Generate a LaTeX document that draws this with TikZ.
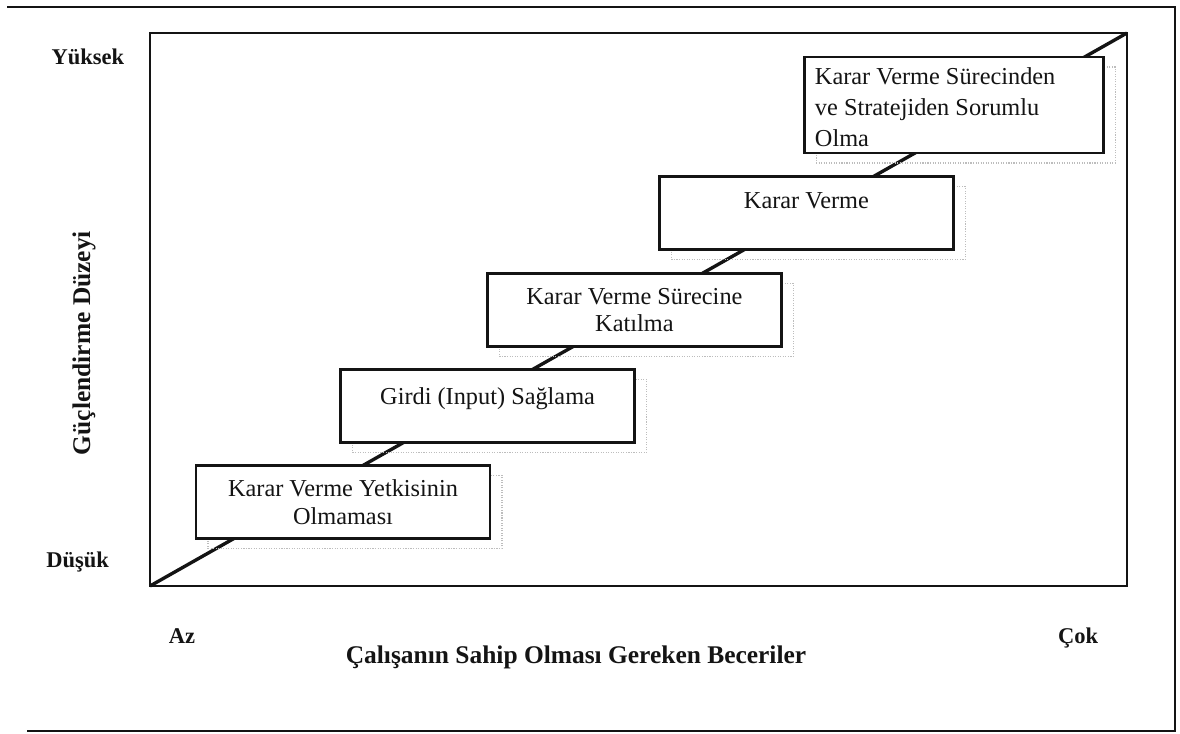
\documentclass[tikz,border=0pt]{standalone}
\usepackage{fontspec}
\setmainfont{Liberation Serif}
\usepackage{tikz}
\usetikzlibrary{shadows}
\definecolor{Ink}{HTML}{141414}
\definecolor{Ghost}{HTML}{BDBDBD}

\begin{document}
\begin{tikzpicture}[x=1cm,y=1cm,
    every node/.style={font=\fontsize{17.3}{19.5}\selectfont, text=Ink, align=center},
    stepbox/.style={draw=Ink, line width=2pt, fill=white, inner sep=0pt,
      minimum width=7.35cm, minimum height=1.825cm,
      drop shadow={shadow xshift=0.3cm, shadow yshift=-0.25cm, fill=none,
        draw=Ghost, densely dotted, line width=0.8pt, opacity=1}},
    levellabel/.style={font=\fontsize{16}{19}\selectfont\bfseries},
    axistitle/.style={font=\fontsize{18.1}{21}\selectfont\bfseries}]
  \useasboundingbox (0,0) rectangle (29.5,18.325);

  % outer frame
  \draw[Ink, line width=1.6pt] (0.175,18.15) -- (29.375,18.15) -- (29.375,0.05) -- (0.675,0.05);

  % plot area and diagonal
  \coordinate (origin) at (3.75,3.675);
  \coordinate (corner) at (28.175,17.5);
  \draw[Ink, line width=1.6pt] (origin) rectangle (corner);
  \draw[Ink, line width=2.4pt] (origin) -- (corner);

  \node[stepbox] (step1) at (8.575,5.775) {Karar Verme Yetkisinin\\Olmaması};
  \node[stepbox, text depth=0.5cm] (step2) at (12.19,8.175) {Girdi (Input) Sağlama};
  \node[stepbox] (step3) at (15.86,10.575) {Karar Verme Sürecine\\Katılma};
  \node[stepbox, text depth=0.6cm] (step4) at (20.16,13.0) {Karar Verme};
  \node[stepbox, minimum width=7.475cm, minimum height=2.4cm] (step5) at (23.84,15.7) {};
  \begin{scope}
    \clip (step5.south west) rectangle (step5.north east);
    \node[anchor=north west, align=left, inner sep=0pt, font=\fontsize{17.3}{22}\selectfont]
      (step5text) at ([shift={(0.3,-0.3)}]step5.north west) {Karar Verme Sürecinden\\ve Stratejiden Sorumlu\\Olma};
  \end{scope}

  % axis labels
  \node[levellabel, anchor=base] (high) at (2.2,16.7) {Yüksek};
  \node[levellabel, anchor=base] (low) at (1.94,4.125) {Düşük};
  \node[levellabel, anchor=base] (few) at (4.55,2.25) {Az};
  \node[levellabel, anchor=base] (many) at (26.95,2.25) {Çok};
  \node[axistitle, rotate=90] (yaxis) at (2.1,9.75) {Güçlendirme Düzeyi};
  \node[axistitle, anchor=base] (xaxis) at (14.4,1.75) {Çalışanın Sahip Olması Gereken Beceriler};
\end{tikzpicture}
\end{document}
